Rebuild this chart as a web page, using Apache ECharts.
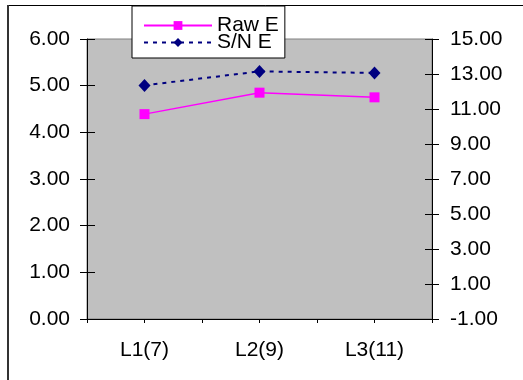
<!DOCTYPE html>
<html>
<head>
<meta charset="utf-8">
<script src="https://cdn.jsdelivr.net/npm/echarts@6/dist/echarts.min.js"></script>
<style>
  html, body { margin: 0; padding: 0; background: #fff; }
  #chart { width: 523px; height: 380px; }
</style>
</head>
<body>
<div id="chart"></div>
<script>
// Levels and the two response measures
const categories = ['L1(7)', 'L2(9)', 'L3(11)'];
const rawE = [4.39, 4.85, 4.75];
const snE = [12.35, 13.15, 13.06];

const FONT = 'Liberation Sans, Arial, sans-serif';
const labelStyle = { color: '#000', fontFamily: FONT, fontSize: 21 };
const fmt2 = v => v.toFixed(2);

const chart = echarts.init(document.getElementById('chart'), null, { renderer: 'canvas' });

chart.setOption({
  animation: false,
  backgroundColor: '#fff',
  grid: {
    left: 87, right: 91, top: 39, bottom: 61,
    show: true,
    backgroundColor: '#C0C0C0',
    borderColor: '#808080',
    borderWidth: 1
  },
  legend: {
    orient: 'vertical',
    left: 132, top: 6,
    padding: [9, 6, 5, 11],
    itemWidth: 68, itemHeight: 11,
    itemGap: -4,
    backgroundColor: '#fff',
    borderColor: '#000',
    borderWidth: 1,
    borderRadius: 0,
    textStyle: { color: '#000', fontFamily: FONT, fontSize: 21, lineHeight: 19, padding: [0, 0, 0, 0] },
    data: ['Raw E', 'S/N E']
  },
  xAxis: [
    {
      type: 'category',
      data: categories,
      boundaryGap: true,
      axisLine: { show: true, onZero: false, lineStyle: { color: '#000', width: 1 } },
      axisTick: { show: true, interval: 0, length: 4, lineStyle: { color: '#000' } },
      axisLabel: Object.assign({ margin: 21, interval: 0 }, labelStyle),
      splitLine: { show: false }
    },
    {
      // extra tick marks at the centre of each level
      type: 'category',
      position: 'bottom',
      offset: 0,
      data: categories,
      boundaryGap: true,
      axisLine: { show: false, onZero: false },
      axisTick: { show: true, alignWithLabel: true, interval: 0, length: 4, lineStyle: { color: '#000' } },
      axisLabel: { show: false },
      splitLine: { show: false }
    }
  ],
  yAxis: [
    {
      type: 'value',
      position: 'left',
      min: 0, max: 6, interval: 1,
      axisLine: { show: true, lineStyle: { color: '#000', width: 1 } },
      axisTick: { show: true, length: 7, lineStyle: { color: '#000' } },
      axisLabel: Object.assign({ margin: 17, formatter: fmt2 }, labelStyle),
      splitLine: { show: false }
    },
    {
      type: 'value',
      position: 'right',
      min: -1, max: 15, interval: 2,
      axisLine: { show: true, lineStyle: { color: '#000', width: 1 } },
      axisTick: { show: true, length: 7, lineStyle: { color: '#000' } },
      axisLabel: Object.assign({ margin: 18, formatter: fmt2 }, labelStyle),
      splitLine: { show: false }
    },
    {
      // inner half of the crossing ticks, left
      type: 'value',
      position: 'left',
      offset: 0,
      min: 0, max: 6, interval: 1,
      axisLine: { show: false },
      axisTick: { show: true, inside: true, length: 8, lineStyle: { color: '#000' } },
      axisLabel: { show: false },
      splitLine: { show: false }
    },
    {
      // inner half of the crossing ticks, right
      type: 'value',
      position: 'right',
      offset: 0,
      min: -1, max: 15, interval: 2,
      axisLine: { show: false },
      axisTick: { show: true, inside: true, length: 7, lineStyle: { color: '#000' } },
      axisLabel: { show: false },
      splitLine: { show: false }
    }
  ],
  series: [
    {
      name: 'Raw E',
      type: 'line',
      xAxisIndex: 0,
      yAxisIndex: 0,
      data: rawE,
      symbol: 'rect',
      symbolSize: 10,
      lineStyle: { color: '#FF00FF', width: 1.5 },
      itemStyle: { color: '#FF00FF' },
      z: 3
    },
    {
      name: 'S/N E',
      type: 'line',
      xAxisIndex: 0,
      yAxisIndex: 1,
      data: snE,
      symbol: 'diamond',
      symbolSize: [12, 13],
      lineStyle: { color: '#000080', width: 2, type: [4, 5] },
      itemStyle: { color: '#000080' },
      z: 3
    }
  ],
  graphic: [
    {
      type: 'line',
      shape: { x1: 7.5, y1: 5.5, x2: 523, y2: 5.5 },
      style: { stroke: '#000', lineWidth: 1 },
      z: 100
    },
    {
      type: 'line',
      shape: { x1: 8, y1: 5, x2: 8, y2: 380 },
      style: { stroke: '#333', lineWidth: 2 },
      z: 100
    }
  ]
});
</script>
</body>
</html>
